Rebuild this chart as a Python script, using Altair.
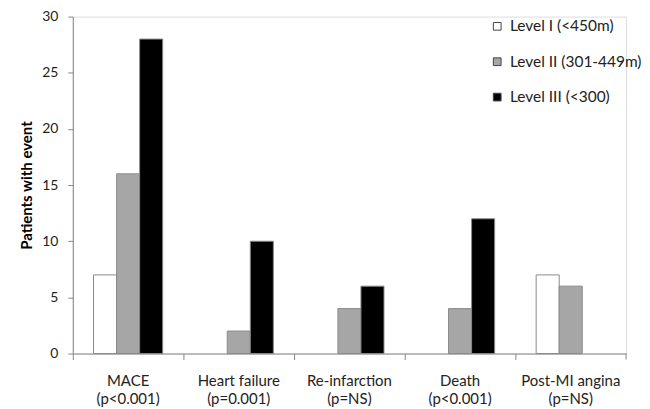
import altair as alt
import pandas as pd

categories = ["MACE\n(p<0.001)", "Heart failure\n(p=0.001)", "Re-infarction\n(p=NS)",
              "Death\n(p<0.001)", "Post-MI angina\n(p=NS)"]
levels = ["Level I (<450m)", "Level II (301-449m)", "Level III (<300)"]
level1 = [7, 0, 0, 0, 7]
level2 = [16, 2, 4, 4, 6]
level3 = [28, 10, 6, 12, 0]
colors = ["#ffffff", "#a6a6a6", "#000000"]

rows = []
for i, c in enumerate(categories):
    for lv, vals in zip(levels, [level1, level2, level3]):
        rows.append({"category": c, "level": lv, "value": vals[i]})
df = pd.DataFrame(rows)

FONT = "Lato"
W, H = 555, 338

bars = alt.Chart(df).transform_filter("datum.value > 0").mark_bar(
    stroke="#8a8a8a", strokeWidth=1
).encode(
    x=alt.X("category:N", sort=categories, title=None,
            scale=alt.Scale(paddingInner=0, paddingOuter=0),
            axis=alt.Axis(labelExpr="split(datum.label, '\\n')", labelAngle=0,
                          bandPosition=0, labelFontSize=15, labelColor="#222",
                          labelFont=FONT, domainColor="#888", tickColor="#888",
                          tickSize=6, labelPadding=14, labelLineHeight=18)),
    xOffset=alt.XOffset("level:N", sort=levels,
                        scale=alt.Scale(paddingInner=0, paddingOuter=0.9)),
    y=alt.Y("value:Q", title="Patients with event",
            scale=alt.Scale(domain=[0, 30], nice=False),
            axis=alt.Axis(values=[0, 5, 10, 15, 20, 25, 30], grid=False,
                          labelFontSize=14, labelFont=FONT, labelColor="#222",
                          titleFont=FONT, titleFontSize=15, titleFontWeight="bold",
                          titleColor="#000", domainColor="#888", tickColor="#888",
                          tickSize=5, labelPadding=10, titlePadding=7)),
    fill=alt.Fill("level:N", sort=levels, scale=alt.Scale(domain=levels, range=colors),
                  legend=alt.Legend(title=None, orient="none", legendX=418, legendY=2,
                                    symbolType="square", symbolSize=60,
                                    symbolStrokeColor="#444", symbolStrokeWidth=1,
                                    labelFont=FONT, labelFontSize=15.5, labelColor="#222",
                                    rowPadding=18.5, labelOffset=5)),
)

end_tick = alt.Chart(pd.DataFrame({"a": [0]})).mark_rule(color="#888").encode(
    x=alt.value(W), y=alt.value(H), y2=alt.value(H + 6)
)

chart = alt.layer(bars, end_tick).properties(
    width=W, height=H,
    padding={"left": 11, "top": 1, "right": 0, "bottom": 0}
).configure_view(stroke=None).configure(background="white")

chart.save("out.html", embed_options={"renderer": "svg", "actions": False})
